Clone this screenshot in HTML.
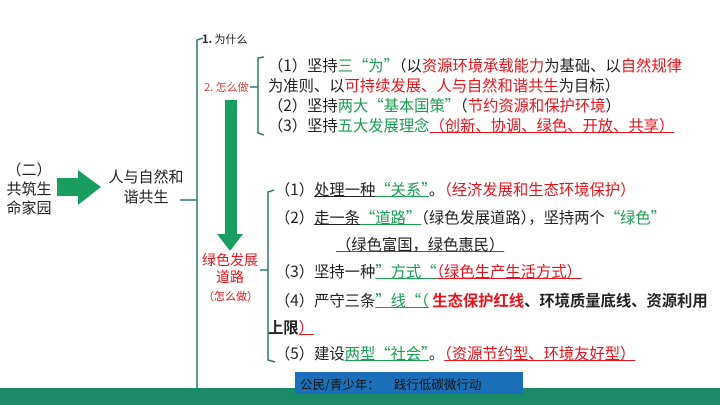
<!DOCTYPE html><html><head><meta charset="utf-8"><style>
body{margin:0;width:720px;height:405px;background:#fff;position:relative;overflow:hidden;font-family:"Noto Sans CJK SC","Liberation Sans",sans-serif;}
.a{position:absolute;white-space:nowrap;}
.g{color:#1a9e50}.r{color:#e8141c}
.ur{text-decoration:underline;text-decoration-color:#e8141c}
.ug{text-decoration:underline;text-decoration-color:#1a9e50}
.t{font-size:15.3px;color:#222;line-height:20px}
</style></head><body>
<svg class="a" style="left:0;top:0" width="720" height="405">
<polyline points="203,38 197,40 197,390 204,392" fill="none" stroke="#2a7a6a" stroke-width="1.5"/>
<line x1="180" y1="200" x2="197" y2="200" stroke="#2a7a6a" stroke-width="1.5"/>
<polyline points="264,57 258,58 258,133 264,135" fill="none" stroke="#2a7a6a" stroke-width="1.5"/>
<line x1="250" y1="87" x2="258" y2="87" stroke="#2a7a6a" stroke-width="1.5"/>
<polyline points="274,190 268,192 268,360 275,362" fill="none" stroke="#2a7a6a" stroke-width="1.5"/>
<line x1="260" y1="270" x2="268" y2="270" stroke="#2a7a6a" stroke-width="1.5"/>
<rect x="225" y="100" width="12" height="135" fill="#1a9e60"/>
<polygon points="217,234 243,234 230,251" fill="#1a9e60"/>
<polygon points="57,178 78,178 78,170 101,187 78,205 78,196 57,196" fill="#1a9e60"/>
<rect x="0" y="388" width="720" height="17" fill="#1b8a68"/>
<rect x="295" y="372" width="228" height="22" fill="#1a6fb8"/>
</svg>
<div class="a" style="left:4px;top:160px;font-size:15px;line-height:19px;text-align:center;width:50px;color:#222">（二）<br>共筑生<br>命家园</div>
<div class="a" style="left:108px;top:167px;font-size:15px;line-height:20px;text-align:center;width:76px;color:#222">人与自然和<br>谐共生</div>
<div class="a" style="left:202px;top:31px;font-size:11px;color:#222"><b>1.</b> 为什么</div>
<div class="a" style="left:204px;top:79px;font-size:11px;color:#d04848">2. 怎么做</div>
<div class="a r" style="left:200px;top:252px;font-size:14px;line-height:17px;text-align:center;width:60px">绿色发展<br>道路</div>
<div class="a r" style="left:203px;top:288px;font-size:11px">（怎么做）</div>
<div class="a t" style="left:268px;top:55px;line-height:20px">（1）坚持<span class="g">三“为”</span>（以<span class="r">资源环境承载能力</span>为基础、以<span class="r">自然规律</span><br>为准则、以<span class="r">可持续发展、人与自然和谐共生</span>为目标）<br>（2）坚持<span class="g">两大“基本国策”</span>（<span class="r">节约资源和保护环境</span>）<br>（3）坚持<span class="g">五大发展理念</span><span class="r ur">（创新、协调、绿色、开放、共享）</span></div>
<div class="a t" style="left:275px;top:179px">（1）<span class="ur" style="text-decoration-color:#222">处理一种</span><span class="g ug">“关系”</span>。<span class="r">（经济发展和生态环境保护）</span></div>
<div class="a t" style="left:275px;top:207px">（2）<span class="ur" style="text-decoration-color:#222">走一条</span><span class="g ug">“道路”</span>（绿色发展道路），坚持两个<span class="g">“绿色”</span></div>
<div class="a t r" style="left:336px;top:234px"><span class="ur">（绿色富国，绿色惠民）</span></div>
<div class="a t" style="left:275px;top:261px">（3）坚持一种<span class="g ug">”方式“</span><span class="r ur">（绿色生产生活方式）</span></div>
<div class="a t" style="left:275px;top:290px">（4）严守三条<span class="g ug">”线“（</span> <b class="r">生态保护红线</b><b>、环境质量底线、资源利用</b></div>
<div class="a t" style="left:268px;top:317px"><b>上限</b><span class="r ur">）</span></div>
<div class="a t" style="left:275px;top:343px">（5）建设<span class="g ug">两型“社会”</span>。<span class="r ur">（资源节约型、环境友好型）</span></div>
<div class="a" style="left:300px;top:374px;font-size:12.5px;color:#111">公民/青少年：&nbsp;&nbsp;&nbsp;&nbsp;&nbsp;践行低碳微行动</div>
</body></html>
